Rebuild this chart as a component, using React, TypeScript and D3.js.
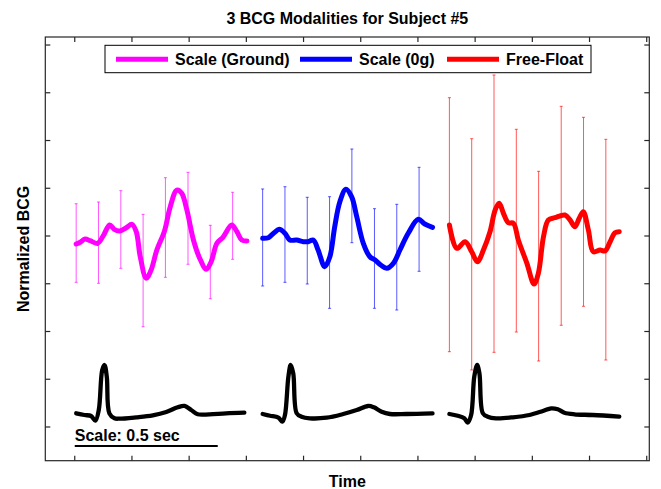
import React from "react";
import * as d3 from "d3";

const W = 661;
const H = 489;
const box = { left: 45.3, top: 37, right: 649.3, bottom: 460.7 };

const titleText = "3 BCG Modalities for Subject #5";
const xLabel = "Time";
const yLabel = "Normalized BCG";
const scaleLabel = "Scale: 0.5 sec";
const scaleLength = 0.5;

const xTicks = [0, 0.2, 0.4, 0.6, 0.8, 1.0, 1.2, 1.4, 1.6, 1.8, 2.0];
const yTicks = [-4, -3, -2, -1, 0, 1, 2, 3, 4];

const seriesNames = ["Scale (Ground)", "Scale (0g)", "Free-Float"];
const seriesColors = ["#ff00ff", "#0000ff", "#ff0000"];
const segmentStarts = [0.005, 0.657, 1.31];

// mean BCG curves (local time in s, normalized value)
const groundT = [0, 0.014, 0.031, 0.049, 0.075, 0.096, 0.117, 0.133, 0.152, 0.175, 0.195, 0.21, 0.224, 0.245, 0.262, 0.282, 0.308, 0.329, 0.352, 0.369, 0.387, 0.41, 0.431, 0.455, 0.472, 0.492, 0.513, 0.544, 0.562, 0.579, 0.597];
const groundV = [-0.168, -0.132, -0.063, -0.098, -0.153, 0.021, 0.23, 0.14, 0.105, 0.174, 0.245, 0.09, -0.434, -0.886, -0.712, -0.293, 0.09, 0.614, 0.963, 0.894, 0.545, -0.084, -0.454, -0.697, -0.538, -0.153, -0.027, 0.23, 0.09, -0.084, -0.105];

const zeroGT = [0, 0.02, 0.04, 0.058, 0.078, 0.095, 0.119, 0.142, 0.159, 0.177, 0.194, 0.217, 0.235, 0.252, 0.27, 0.291, 0.311, 0.329, 0.352, 0.375, 0.393, 0.413, 0.434, 0.457, 0.48, 0.509, 0.544, 0.567, 0.594];
const zeroGV = [-0.048, -0.036, 0.069, 0.14, 0.057, -0.084, -0.084, -0.119, -0.119, -0.084, -0.293, -0.643, -0.434, 0.195, 0.718, 0.978, 0.823, 0.404, -0.153, -0.434, -0.503, -0.607, -0.676, -0.572, -0.293, 0.057, 0.35, 0.251, 0.182];

const floatT = [0, 0.026, 0.055, 0.078, 0.098, 0.119, 0.142, 0.16, 0.174, 0.189, 0.206, 0.224, 0.241, 0.271, 0.296, 0.311, 0.329, 0.346, 0.369, 0.404, 0.422, 0.439, 0.454, 0.468, 0.486, 0.503, 0.527, 0.544, 0.562, 0.579, 0.594];
const floatV = [0.23, -0.258, -0.119, -0.329, -0.538, -0.293, 0.09, 0.545, 0.685, 0.475, 0.279, 0.266, -0.084, -0.572, -1.005, -0.781, -0.015, 0.335, 0.383, 0.44, 0.335, 0.195, 0.371, 0.509, 0.126, -0.329, -0.293, -0.314, -0.119, 0.069, 0.09];

// error bars: mean and standard deviation at sample times
const barT = [0, 0.078, 0.156, 0.234, 0.312, 0.391, 0.469, 0.547];
const groundBarMean = [-0.147, -0.139, 0.136, -0.723, 0.178, 0.371, -0.545, 0.214];
const groundBarSd = [0.823, 0.851, 0.813, 1.177, 1.043, 0.963, 0.769, 0.702];
const zeroGBarMean = [-0.031, 0.031, -0.097, -0.346, 0.841, -0.471, -0.443, 0.35];
const zeroGBarSd = [1.016, 1.001, 0.908, 1.169, 0.981, 1.043, 1.107, 1.089];
const floatBarMean = [0.237, -0.384, 0.468, 0.112, -0.631, 0.423, 0.507, -0.286];
const floatBarSd = [2.66, 2.422, 2.904, 2.123, 1.986, 2.293, 1.979, 2.311];

// ECG reference traces
const ecg1T = [0, 0.029, 0.052, 0.067, 0.079, 0.091, 0.099, 0.107, 0.116, 0.134, 0.151, 0.21, 0.268, 0.315, 0.355, 0.379, 0.402, 0.425, 0.466, 0.524, 0.588];
const ecg1V = [-3.713, -3.749, -3.77, -3.868, -3.644, -2.806, -2.702, -2.947, -3.713, -3.818, -3.826, -3.797, -3.755, -3.686, -3.587, -3.56, -3.644, -3.734, -3.734, -3.713, -3.7];
const ecg2T = [0, 0.026, 0.055, 0.069, 0.078, 0.09, 0.098, 0.107, 0.119, 0.136, 0.165, 0.224, 0.282, 0.329, 0.369, 0.389, 0.416, 0.445, 0.503, 0.594];
const ecg2V = [-3.728, -3.764, -3.806, -3.889, -3.749, -2.947, -2.702, -2.876, -3.713, -3.784, -3.818, -3.805, -3.728, -3.644, -3.56, -3.588, -3.68, -3.728, -3.728, -3.714];
const ecg3T = [0, 0.029, 0.052, 0.064, 0.076, 0.087, 0.097, 0.105, 0.117, 0.134, 0.163, 0.222, 0.28, 0.327, 0.356, 0.379, 0.402, 0.437, 0.501, 0.594];
const ecg3V = [-3.728, -3.764, -3.818, -3.91, -3.749, -2.947, -2.702, -2.876, -3.713, -3.784, -3.818, -3.797, -3.749, -3.665, -3.609, -3.63, -3.701, -3.734, -3.749, -3.784];

const curves = [
  { t: groundT, v: groundV, bm: groundBarMean, bs: groundBarSd },
  { t: zeroGT, v: zeroGV, bm: zeroGBarMean, bs: zeroGBarSd },
  { t: floatT, v: floatV, bm: floatBarMean, bs: floatBarSd },
];
const ecgs = [
  { t: ecg1T, v: ecg1V },
  { t: ecg2T, v: ecg2V },
  { t: ecg3T, v: ecg3V },
];

const font = "'Liberation Sans', Arial, Helvetica, sans-serif";

export default function App() {
  const x = d3.scaleLinear().domain([-0.103, 2.009]).range([box.left, box.right]);
  const y = d3.scaleLinear().domain([-4.706, 4.168]).range([box.bottom, box.top]);

  const line = d3
    .line<[number, number]>()
    .x((d) => x(d[0]))
    .y((d) => y(d[1]))
    .curve(d3.curveCatmullRom.alpha(0.5));

  const tickLen = 5;
  const axisColor = "#262626";

  const legendItems = [
    { x0: 116, tx: 175 },
    { x0: 300, tx: 359 },
    { x0: 447, tx: 506 },
  ];

  return (
    <div style={{ position: "absolute", left: 0, top: 0 }}>
      <svg width={W} height={H} style={{ display: "block", background: "#fff" }}>
        <rect x={0} y={0} width={W} height={H} fill="#fff" />

        {/* error bars */}
        {curves.map((c, i) =>
          barT.map((bt, j) => {
            const cx = x(segmentStarts[i] + bt);
            const y1 = y(c.bm[j] + c.bs[j]);
            const y2 = y(c.bm[j] - c.bs[j]);
            return (
              <g key={`eb${i}-${j}`} stroke={seriesColors[i]} strokeOpacity={0.65} strokeWidth={1}>
                <line x1={cx} x2={cx} y1={y1} y2={y2} />
                <line x1={cx - 1.5} x2={cx + 1.5} y1={y1} y2={y1} />
                <line x1={cx - 1.5} x2={cx + 1.5} y1={y2} y2={y2} />
              </g>
            );
          })
        )}

        {/* mean BCG curves */}
        {curves.map((c, i) => (
          <path
            key={`bcg${i}`}
            d={line(c.t.map((t, k) => [segmentStarts[i] + t, c.v[k]] as [number, number])) || ""}
            fill="none"
            stroke={seriesColors[i]}
            strokeWidth={5}
            strokeLinejoin="round"
            strokeLinecap="round"
          />
        ))}

        {/* ECG traces */}
        {ecgs.map((e, i) => (
          <path
            key={`ecg${i}`}
            d={line(e.t.map((t, k) => [segmentStarts[i] + t, e.v[k]] as [number, number])) || ""}
            fill="none"
            stroke="#000"
            strokeWidth={4.3}
            strokeLinejoin="round"
            strokeLinecap="round"
          />
        ))}

        {/* time scale bar */}
        <line x1={x(0)} x2={x(scaleLength)} y1={y(-4.398)} y2={y(-4.398)} stroke="#000" strokeWidth={2} />
        <text x={x(0)} y={y(-4.29)} fontFamily={font} fontWeight="bold" fontSize={16} fill="#000">
          {scaleLabel}
        </text>

        {/* axes box and ticks */}
        <g stroke={axisColor} strokeWidth={1.2} fill="none">
          {xTicks.map((t) => (
            <g key={`xt${t}`}>
              <line x1={x(t)} x2={x(t)} y1={box.bottom} y2={box.bottom - tickLen} />
              <line x1={x(t)} x2={x(t)} y1={box.top} y2={box.top + tickLen} />
            </g>
          ))}
          {yTicks.map((v) => (
            <g key={`yt${v}`}>
              <line x1={box.left} x2={box.left + tickLen} y1={y(v)} y2={y(v)} />
              <line x1={box.right} x2={box.right - tickLen} y1={y(v)} y2={y(v)} />
            </g>
          ))}
          <rect x={box.left} y={box.top} width={box.right - box.left} height={box.bottom - box.top} />
        </g>

        {/* legend */}
        <rect x={105} y={45.3} width={486} height={27.4} fill="#fff" stroke="#000" strokeWidth={1} />
        {legendItems.map((it, i) => (
          <g key={`lg${i}`}>
            <line x1={it.x0} x2={it.x0 + 52} y1={59.3} y2={59.3} stroke={seriesColors[i]} strokeWidth={5} />
            <text x={it.tx} y={65} fontFamily={font} fontWeight="bold" fontSize={16} fill="#000">
              {seriesNames[i]}
            </text>
          </g>
        ))}

        {/* labels */}
        <text x={(box.left + box.right) / 2} y={24} textAnchor="middle" fontFamily={font} fontWeight="bold" fontSize={16} fill="#000">
          {titleText}
        </text>
        <text x={(box.left + box.right) / 2} y={487} textAnchor="middle" fontFamily={font} fontWeight="bold" fontSize={16} fill="#000">
          {xLabel}
        </text>
        <text
          transform={`translate(29,${(box.top + box.bottom) / 2}) rotate(-90)`}
          textAnchor="middle"
          fontFamily={font}
          fontWeight="bold"
          fontSize={16}
          fill="#000"
        >
          {yLabel}
        </text>
      </svg>
    </div>
  );
}
